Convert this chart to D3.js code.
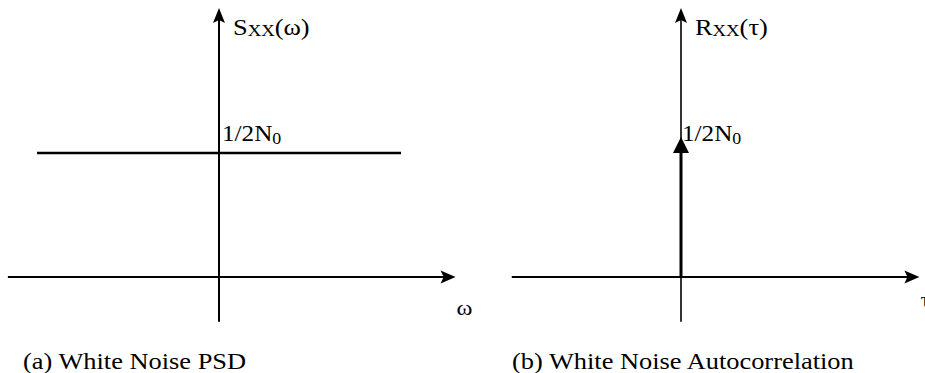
<!DOCTYPE html>
<html><head><meta charset="utf-8">
<script src="https://cdn.jsdelivr.net/npm/d3@7"></script>
<style>
html,body{margin:0;padding:0;background:#fff;}
svg{display:block;}
</style></head>
<body>
<script>
// ---- data ----
const captions = ["(a) White Noise PSD", "(b) White Noise Autocorrelation"];
const yAxisLabels = [["S", "XX", "(ω)"], ["R", "XX", "(τ)"]];
const xAxisLabels = ["ω", "τ"];
const levelLabel = ["1/2N", "0"];
const psdSegment = [[-1, 0.5], [1, 0.5]];      // flat PSD N0/2 over the band
const impulse = [[0, 0], [0, 0.5]];             // delta at tau = 0, weight N0/2
const xAxisExtent = [[-1.16, 1.30], [-0.93, 1.31]];
const yAxisExtent = [-0.18, 1.085];

// ---- layout ----
const W = 925, H = 373;
const centers = [219, 681];
const captionX = [23, 512];
const halfWidth = 182;
const FONT = "'Liberation Serif', Tinos, 'Times New Roman', Times, 'Nimbus Roman', serif";
const svg = d3.select("body").append("svg").attr("width", W).attr("height", H);

const y = d3.scaleLinear().domain([0, 0.5]).range([277, 153]);

function arrowHead(g, x0, y0, angle, len, half, notch) {
  const p = `M0,0 L${-len},${-half} L${-len + notch},0 L${-len},${half} Z`;
  g.append("path").attr("d", p)
    .attr("transform", `translate(${x0},${y0}) rotate(${angle})`)
    .attr("fill", "#000");
}

function label(g, x0, y0, parts, size, stretch) {
  const t = g.append("text")
    .attr("transform", `translate(${x0},${y0}) scale(${stretch || 1},1)`)
    .attr("font-family", FONT)
    .style("font-family", FONT)
    .style("font-size", size + "px")
    .attr("fill", "#000");
  parts.forEach(p => {
    t.append("tspan").text(p.t)
      .style("font-size", (p.s || size) + "px")
      .attr("dy", p.dy || 0);
  });
  return t;
}

centers.forEach((cx, i) => {
  const x = d3.scaleLinear().domain([-1, 1]).range([cx - halfWidth, cx + halfWidth]);
  const g = svg.append("g");
  const line = d3.line().x(d => x(d[0])).y(d => y(d[1]));

  // x axis
  const xa0 = x(xAxisExtent[i][0]), xa1 = x(xAxisExtent[i][1]);
  g.append("line").attr("x1", xa0).attr("x2", xa1 - 10)
    .attr("y1", y(0)).attr("y2", y(0))
    .attr("stroke", "#000").attr("stroke-width", 2);
  arrowHead(g, xa1, y(0), 0, 15, 6.5, 3);

  // y axis
  const ya0 = y(yAxisExtent[0]), ya1 = y(yAxisExtent[1]);
  g.append("line").attr("x1", x(0)).attr("x2", x(0))
    .attr("y1", ya0).attr("y2", ya1 + 10)
    .attr("stroke", "#000").attr("stroke-width", i === 0 ? 2 : 1.6);
  arrowHead(g, x(0), ya1, -90, 15, 6, 3);

  if (i === 0) {
    g.append("path").datum(psdSegment).attr("d", line)
      .attr("fill", "none").attr("stroke", "#000").attr("stroke-width", 2.6);
  } else {
    g.append("path").datum(impulse).attr("d", line)
      .attr("fill", "none").attr("stroke", "#000").attr("stroke-width", 3);
    arrowHead(g, x(impulse[1][0]), y(impulse[1][1]) - 16, -90, 16, 8, 0);
  }

  // y axis label
  label(g, x(0) + 14, 35, [
    { t: yAxisLabels[i][0] },
    { t: yAxisLabels[i][1], s: 17, dy: 1 },
    { t: yAxisLabels[i][2], dy: -1 }
  ], 24, 1.1);

  // level label
  label(g, x(0) + (i === 0 ? 3 : 1), 141, [
    { t: levelLabel[0] },
    { t: levelLabel[1], s: 17, dy: 3 }
  ], 24, 1.05);

  // x axis label
  label(g, xa1 + 1, i === 0 ? 315 : 307, [{ t: xAxisLabels[i] }], 22, 1.1);

  // caption
  label(g, captionX[i], 369, [{ t: captions[i] }], 24, 1.1);
});
</script>
</body></html>
